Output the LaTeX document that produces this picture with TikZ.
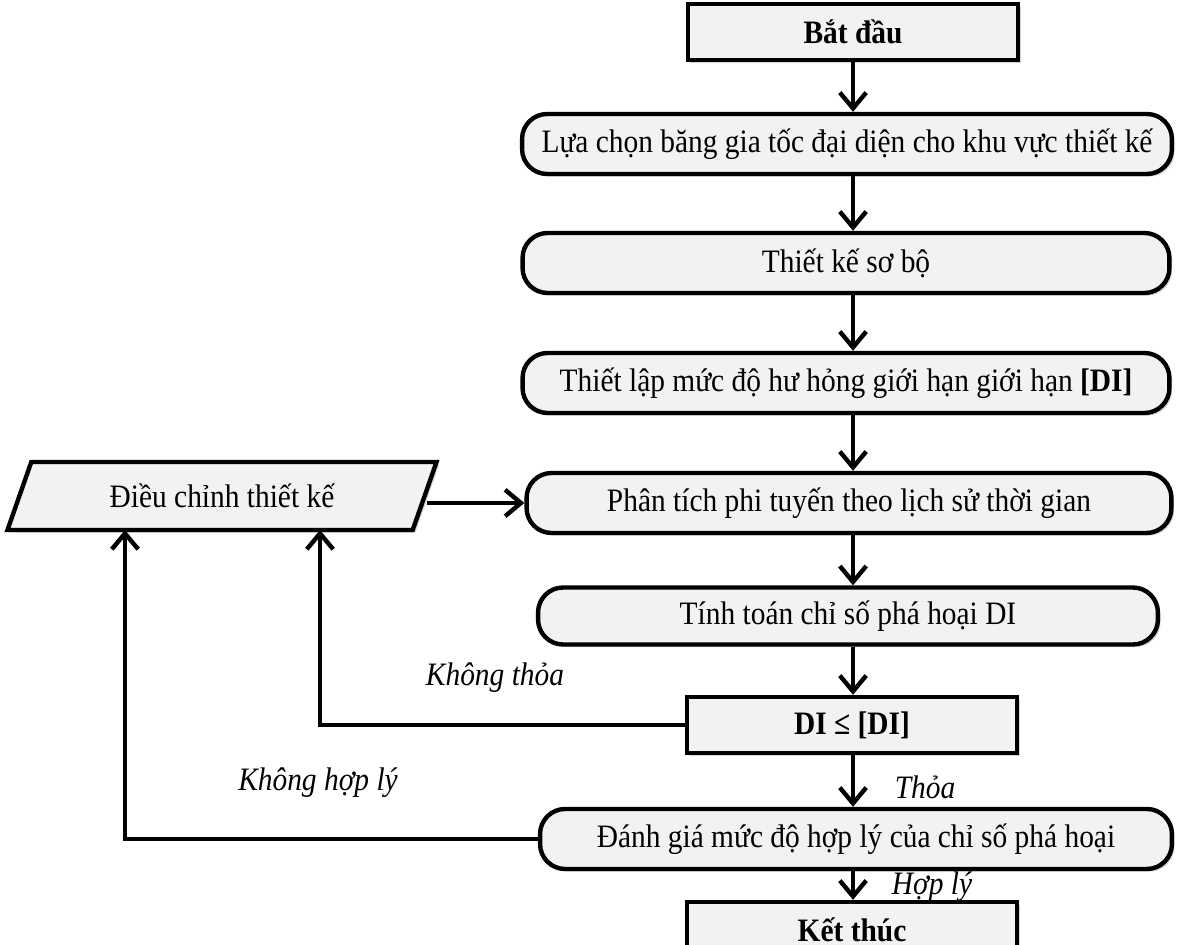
\documentclass[tikz,border=0pt]{standalone}
\usepackage{fontspec}
\setmainfont{Liberation Serif}[FakeStretch=0.9]
\usetikzlibrary{arrows.meta,shapes,shadows}
\definecolor{boxgray}{HTML}{F2F2F2}

\begin{document}
\begin{tikzpicture}[x=0.02cm,y=-0.02cm,
  font=\fontsize{18.6}{22}\selectfont,
  base/.style={draw,line width=2.5pt,fill=boxgray,inner sep=2pt,
    drop shadow={shadow xshift=1.5pt,shadow yshift=-1.5pt,opacity=0.35}},
  term/.style={base,rectangle,minimum width=6.6cm,minimum height=1.12cm,
    font=\fontsize{18.6}{22}\selectfont\bfseries},
  proc/.style={base,rectangle,rounded corners=0.5cm,minimum height=1.2cm},
  io/.style={base,trapezium,trapezium left angle=65,trapezium right angle=115,
    trapezium stretches=true,minimum width=8.6cm,minimum height=1.36cm},
  arr/.style={line width=2.5pt,-{Straight Barb[length=9pt,width=15pt]}},
  lbl/.style={font=\fontsize{18.6}{22}\selectfont\itshape}]
\clip (0,0) rectangle (1178,945);
\coordinate (axis) at (853,0);
% main column
\node[term] (start) at (853,32) {Bắt đầu};
\node[proc,minimum width=13cm] (s1) at (847,144) {Lựa chọn băng gia tốc đại diện cho khu vực thiết kế};
\node[proc,minimum width=12.94cm] (s2) at (846,263) {Thiết kế sơ bộ};
\node[proc,minimum width=12.94cm] (s3) at (846,383) {Thiết lập mức độ hư hỏng giới hạn giới hạn \textbf{[DI]}};
\node[proc,minimum width=12.9cm] (s4) at (849,503) {Phân tích phi tuyến theo lịch sử thời gian};
\node[proc,minimum width=12.4cm,minimum height=1.14cm] (s5) at (848,616) {Tính toán chỉ số phá hoại DI};
\node[term] (chk) at (852,725) {DI ≤ [DI]};
\node[proc,minimum width=12.64cm] (s6) at (856,839) {Đánh giá mức độ hợp lý của chỉ số phá hoại};
\node[term] (stop) at (852,930) {Kết thúc};
% feedback box
\node[io] (adj) at (222,496) {Điều chỉnh thiết kế};
\coordinate (u1) at (320,530);
\coordinate (u2) at (125,530);

\foreach \a/\b in {start/s1,s1/s2,s2/s3,s3/s4,s4/s5,s5/chk,chk/s6,s6/stop}
  \draw[arr] (\a.south -| axis) -- (\b.north -| axis);
\draw[arr] (adj.east |- s4.west) -- (s4.west);
\draw[arr] (chk.west) -| (u1);
\draw[arr] (s6.west) -| (u2);

\node[lbl] (no1) at (495,678) {Không thỏa};
\node[lbl] (no2) at (318,783) {Không hợp lý};
\node[lbl] (yes1) at (925,787) {Thỏa};
\node[lbl] (yes2) at (932,887) {Hợp lý};
\end{tikzpicture}
\end{document}
